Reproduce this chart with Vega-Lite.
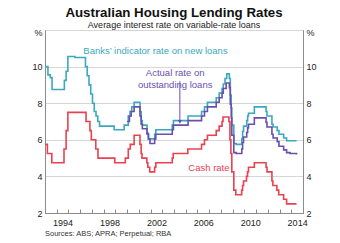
{
  "$schema": "https://vega.github.io/schema/vega-lite/v6.json",
  "width": 258,
  "height": 183,
  "autosize": {"type": "none"},
  "padding": {"left": 45, "top": 30, "right": 37, "bottom": 30},
  "background": "white",
  "title": {
    "text": "Australian Housing Lending Rates",
    "subtitle": "Average interest rate on variable-rate loans",
    "font": "Liberation Sans",
    "fontSize": 13.3,
    "fontWeight": "bold",
    "color": "#111111",
    "subtitleFont": "Liberation Sans",
    "subtitleFontSize": 9,
    "subtitleColor": "#222222",
    "subtitlePadding": 2,
    "anchor": "middle",
    "offset": -2
  },
  "config": {
    "font": "Liberation Sans",
    "view": {"stroke": "#8c8c8c", "strokeWidth": 1}
  },
  "datasets": {
    "one": [{"k": 1}],
    "rates": [
      {"series": "Banks", "date": 1993.0, "value": 10.0},
      {"series": "Banks", "date": 1993.25, "value": 9.55},
      {"series": "Banks", "date": 1993.45, "value": 9.4},
      {"series": "Banks", "date": 1993.6, "value": 8.75},
      {"series": "Banks", "date": 1994.65, "value": 9.25},
      {"series": "Banks", "date": 1994.8, "value": 9.75},
      {"series": "Banks", "date": 1994.95, "value": 10.55},
      {"series": "Banks", "date": 1995.55, "value": 10.5},
      {"series": "Banks", "date": 1996.45, "value": 10.0},
      {"series": "Banks", "date": 1996.6, "value": 9.5},
      {"series": "Banks", "date": 1996.75, "value": 9.0},
      {"series": "Banks", "date": 1996.9, "value": 8.5},
      {"series": "Banks", "date": 1997.05, "value": 8.0},
      {"series": "Banks", "date": 1997.2, "value": 7.55},
      {"series": "Banks", "date": 1997.35, "value": 7.3},
      {"series": "Banks", "date": 1997.5, "value": 7.0},
      {"series": "Banks", "date": 1997.65, "value": 6.75},
      {"series": "Banks", "date": 1998.9, "value": 6.55},
      {"series": "Banks", "date": 1999.75, "value": 6.8},
      {"series": "Banks", "date": 2000.1, "value": 7.3},
      {"series": "Banks", "date": 2000.25, "value": 7.55},
      {"series": "Banks", "date": 2000.4, "value": 7.8},
      {"series": "Banks", "date": 2000.6, "value": 8.05},
      {"series": "Banks", "date": 2001.1, "value": 7.55},
      {"series": "Banks", "date": 2001.2, "value": 7.05},
      {"series": "Banks", "date": 2001.3, "value": 6.8},
      {"series": "Banks", "date": 2001.7, "value": 6.3},
      {"series": "Banks", "date": 2001.85, "value": 6.05},
      {"series": "Banks", "date": 2002.35, "value": 6.3},
      {"series": "Banks", "date": 2002.45, "value": 6.55},
      {"series": "Banks", "date": 2003.85, "value": 6.8},
      {"series": "Banks", "date": 2003.95, "value": 7.05},
      {"series": "Banks", "date": 2005.2, "value": 7.3},
      {"series": "Banks", "date": 2006.35, "value": 7.55},
      {"series": "Banks", "date": 2006.6, "value": 7.8},
      {"series": "Banks", "date": 2006.85, "value": 8.05},
      {"series": "Banks", "date": 2007.6, "value": 8.3},
      {"series": "Banks", "date": 2007.85, "value": 8.55},
      {"series": "Banks", "date": 2008.1, "value": 8.8},
      {"series": "Banks", "date": 2008.2, "value": 9.05},
      {"series": "Banks", "date": 2008.35, "value": 9.35},
      {"series": "Banks", "date": 2008.5, "value": 9.6},
      {"series": "Banks", "date": 2008.72, "value": 9.35},
      {"series": "Banks", "date": 2008.8, "value": 8.45},
      {"series": "Banks", "date": 2008.88, "value": 7.75},
      {"series": "Banks", "date": 2008.93, "value": 6.8},
      {"series": "Banks", "date": 2009.1, "value": 5.8},
      {"series": "Banks", "date": 2009.3, "value": 5.75},
      {"series": "Banks", "date": 2009.78, "value": 6.05},
      {"series": "Banks", "date": 2009.85, "value": 6.45},
      {"series": "Banks", "date": 2009.93, "value": 6.75},
      {"series": "Banks", "date": 2010.2, "value": 7.05},
      {"series": "Banks", "date": 2010.28, "value": 7.3},
      {"series": "Banks", "date": 2010.35, "value": 7.45},
      {"series": "Banks", "date": 2010.85, "value": 7.8},
      {"series": "Banks", "date": 2011.85, "value": 7.55},
      {"series": "Banks", "date": 2011.93, "value": 7.3},
      {"series": "Banks", "date": 2012.35, "value": 6.85},
      {"series": "Banks", "date": 2012.45, "value": 6.7},
      {"series": "Banks", "date": 2012.8, "value": 6.5},
      {"series": "Banks", "date": 2012.95, "value": 6.3},
      {"series": "Banks", "date": 2013.35, "value": 6.1},
      {"series": "Banks", "date": 2013.6, "value": 5.95},
      {"series": "Banks", "date": 2014.45, "value": 5.95},

      {"series": "Actual", "date": 2000.0, "value": 7.0},
      {"series": "Actual", "date": 2000.2, "value": 7.3},
      {"series": "Actual", "date": 2000.35, "value": 7.55},
      {"series": "Actual", "date": 2000.6, "value": 7.8},
      {"series": "Actual", "date": 2001.1, "value": 7.3},
      {"series": "Actual", "date": 2001.2, "value": 6.85},
      {"series": "Actual", "date": 2001.3, "value": 6.6},
      {"series": "Actual", "date": 2001.7, "value": 6.35},
      {"series": "Actual", "date": 2001.8, "value": 6.05},
      {"series": "Actual", "date": 2001.95, "value": 5.8},
      {"series": "Actual", "date": 2002.35, "value": 6.05},
      {"series": "Actual", "date": 2002.45, "value": 6.3},
      {"series": "Actual", "date": 2003.85, "value": 6.55},
      {"series": "Actual", "date": 2003.95, "value": 6.8},
      {"series": "Actual", "date": 2005.2, "value": 7.05},
      {"series": "Actual", "date": 2006.35, "value": 7.3},
      {"series": "Actual", "date": 2006.6, "value": 7.55},
      {"series": "Actual", "date": 2006.85, "value": 7.8},
      {"series": "Actual", "date": 2007.6, "value": 8.05},
      {"series": "Actual", "date": 2007.85, "value": 8.3},
      {"series": "Actual", "date": 2008.1, "value": 8.55},
      {"series": "Actual", "date": 2008.2, "value": 8.8},
      {"series": "Actual", "date": 2008.45, "value": 9.1},
      {"series": "Actual", "date": 2008.72, "value": 8.85},
      {"series": "Actual", "date": 2008.8, "value": 7.95},
      {"series": "Actual", "date": 2008.88, "value": 7.2},
      {"series": "Actual", "date": 2008.93, "value": 6.25},
      {"series": "Actual", "date": 2009.1, "value": 5.3},
      {"series": "Actual", "date": 2009.3, "value": 5.25},
      {"series": "Actual", "date": 2009.78, "value": 5.5},
      {"series": "Actual", "date": 2009.85, "value": 5.85},
      {"series": "Actual", "date": 2009.93, "value": 6.15},
      {"series": "Actual", "date": 2010.2, "value": 6.4},
      {"series": "Actual", "date": 2010.28, "value": 6.65},
      {"series": "Actual", "date": 2010.35, "value": 6.85},
      {"series": "Actual", "date": 2010.85, "value": 7.2},
      {"series": "Actual", "date": 2011.85, "value": 6.95},
      {"series": "Actual", "date": 2011.93, "value": 6.7},
      {"series": "Actual", "date": 2012.35, "value": 6.3},
      {"series": "Actual", "date": 2012.45, "value": 6.1},
      {"series": "Actual", "date": 2012.8, "value": 5.9},
      {"series": "Actual", "date": 2012.95, "value": 5.65},
      {"series": "Actual", "date": 2013.35, "value": 5.45},
      {"series": "Actual", "date": 2013.6, "value": 5.3},
      {"series": "Actual", "date": 2013.9, "value": 5.25},
      {"series": "Actual", "date": 2014.45, "value": 5.2},

      {"series": "Cash", "date": 1993.0, "value": 5.75},
      {"series": "Cash", "date": 1993.2, "value": 5.25},
      {"series": "Cash", "date": 1993.58, "value": 4.75},
      {"series": "Cash", "date": 1994.62, "value": 5.5},
      {"series": "Cash", "date": 1994.8, "value": 6.5},
      {"series": "Cash", "date": 1994.95, "value": 7.5},
      {"series": "Cash", "date": 1996.5, "value": 7.0},
      {"series": "Cash", "date": 1996.83, "value": 6.5},
      {"series": "Cash", "date": 1996.95, "value": 6.0},
      {"series": "Cash", "date": 1997.33, "value": 5.5},
      {"series": "Cash", "date": 1997.52, "value": 5.0},
      {"series": "Cash", "date": 1998.95, "value": 4.75},
      {"series": "Cash", "date": 1999.85, "value": 5.0},
      {"series": "Cash", "date": 2000.1, "value": 5.5},
      {"series": "Cash", "date": 2000.27, "value": 5.75},
      {"series": "Cash", "date": 2000.6, "value": 6.25},
      {"series": "Cash", "date": 2001.1, "value": 5.75},
      {"series": "Cash", "date": 2001.2, "value": 5.25},
      {"series": "Cash", "date": 2001.27, "value": 5.0},
      {"series": "Cash", "date": 2001.68, "value": 4.75},
      {"series": "Cash", "date": 2001.77, "value": 4.5},
      {"series": "Cash", "date": 2001.93, "value": 4.25},
      {"series": "Cash", "date": 2002.35, "value": 4.5},
      {"series": "Cash", "date": 2002.45, "value": 4.75},
      {"series": "Cash", "date": 2003.85, "value": 5.0},
      {"series": "Cash", "date": 2003.93, "value": 5.25},
      {"series": "Cash", "date": 2005.18, "value": 5.5},
      {"series": "Cash", "date": 2006.35, "value": 5.75},
      {"series": "Cash", "date": 2006.6, "value": 6.0},
      {"series": "Cash", "date": 2006.85, "value": 6.25},
      {"series": "Cash", "date": 2007.6, "value": 6.5},
      {"series": "Cash", "date": 2007.85, "value": 6.75},
      {"series": "Cash", "date": 2008.1, "value": 7.0},
      {"series": "Cash", "date": 2008.18, "value": 7.25},
      {"series": "Cash", "date": 2008.68, "value": 7.0},
      {"series": "Cash", "date": 2008.77, "value": 6.0},
      {"series": "Cash", "date": 2008.85, "value": 5.25},
      {"series": "Cash", "date": 2008.93, "value": 4.25},
      {"series": "Cash", "date": 2009.1, "value": 3.25},
      {"series": "Cash", "date": 2009.27, "value": 3.0},
      {"series": "Cash", "date": 2009.77, "value": 3.25},
      {"series": "Cash", "date": 2009.85, "value": 3.5},
      {"series": "Cash", "date": 2009.93, "value": 3.75},
      {"series": "Cash", "date": 2010.18, "value": 4.0},
      {"series": "Cash", "date": 2010.27, "value": 4.25},
      {"series": "Cash", "date": 2010.35, "value": 4.5},
      {"series": "Cash", "date": 2010.85, "value": 4.75},
      {"series": "Cash", "date": 2011.85, "value": 4.5},
      {"series": "Cash", "date": 2011.93, "value": 4.25},
      {"series": "Cash", "date": 2012.35, "value": 3.75},
      {"series": "Cash", "date": 2012.43, "value": 3.5},
      {"series": "Cash", "date": 2012.77, "value": 3.25},
      {"series": "Cash", "date": 2012.93, "value": 3.0},
      {"series": "Cash", "date": 2013.35, "value": 2.75},
      {"series": "Cash", "date": 2013.6, "value": 2.5},
      {"series": "Cash", "date": 2014.45, "value": 2.5}
    ]
  },
  "layer": [
    {
      "data": {"name": "rates"},
      "mark": {"type": "line", "interpolate": "step-after", "strokeWidth": 1.6},
      "encoding": {
        "x": {
          "field": "date",
          "type": "quantitative",
          "scale": {"domain": [1993, 2015], "nice": false, "zero": false},
          "axis": {
            "orient": "bottom",
            "title": null,
            "values": [1994, 1998, 2002, 2006, 2010, 2014],
            "format": "d",
            "labelOffset": 5.86,
            "labelFlush": false,
            "labelFontSize": 9,
            "labelColor": "#222222",
            "labelPadding": 5,
            "ticks": false,
            "domainColor": "#8c8c8c",
            "grid": false
          }
        },
        "y": {
          "field": "value",
          "type": "quantitative",
          "scale": {"domain": [2, 12], "nice": false, "zero": false},
          "axis": {
            "orient": "left",
            "title": null,
            "values": [2, 4, 6, 8, 10, 12],
            "labelExpr": "datum.value == 12 ? '%' : datum.label",
            "labelOffset": {"condition": {"test": "datum.value == 12", "value": 2}, "value": 0},
            "labelFontSize": 9,
            "labelColor": "#222222",
            "labelPadding": 3,
            "ticks": false,
            "grid": true,
            "gridColor": "#d6d6d6",
            "domainColor": "#8c8c8c"
          }
        },
        "color": {
          "field": "series",
          "type": "nominal",
          "scale": {"domain": ["Banks", "Actual", "Cash"], "range": ["#3ba9bd", "#6b4fae", "#e9424f"]},
          "legend": null
        }
      }
    },
    {
      "data": {"name": "rates"},
      "mark": {"type": "line", "opacity": 0},
      "encoding": {
        "x": {
          "field": "date",
          "type": "quantitative",
          "axis": {
            "orient": "top",
            "offset": -183,
            "title": null,
            "values": [1993, 1994, 1995, 1996, 1997, 1998, 1999, 2000, 2001, 2002, 2003, 2004, 2005, 2006, 2007, 2008, 2009, 2010, 2011, 2012, 2013, 2014, 2015],
            "labels": false,
            "domain": false,
            "ticks": true,
            "tickSize": 4,
            "tickColor": "#8c8c8c",
            "grid": false
          }
        },
        "y": {
          "field": "value",
          "type": "quantitative",
          "axis": {
            "orient": "right",
            "title": null,
            "values": [2, 4, 6, 8, 10, 12],
            "labelExpr": "datum.value == 12 ? '%' : datum.label",
            "labelOffset": {"condition": {"test": "datum.value == 12", "value": 2}, "value": 0},
            "labelFontSize": 9,
            "labelColor": "#222222",
            "labelPadding": 3,
            "ticks": false,
            "grid": false,
            "domainColor": "#8c8c8c"
          }
        }
      }
    },
    {
      "data": {"name": "one"},
      "mark": {"type": "text", "fontSize": 9.5, "color": "#3ba9bd", "align": "center", "baseline": "middle"},
      "encoding": {"x": {"datum": 2002.42, "axis": null}, "y": {"datum": 10.85, "axis": null}, "text": {"value": "Banks’ indicator rate on new loans"}}
    },
    {
      "data": {"name": "one"},
      "mark": {"type": "text", "fontSize": 9.5, "color": "#6b4fae", "align": "center", "baseline": "middle"},
      "encoding": {"x": {"datum": 2004.1, "axis": null}, "y": {"datum": 9.63, "axis": null}, "text": {"value": "Actual rate on"}}
    },
    {
      "data": {"name": "one"},
      "mark": {"type": "text", "fontSize": 9.5, "color": "#6b4fae", "align": "center", "baseline": "middle"},
      "encoding": {"x": {"datum": 2004.1, "axis": null}, "y": {"datum": 8.98, "axis": null}, "text": {"value": "outstanding loans"}}
    },
    {
      "data": {"name": "one"},
      "mark": {"type": "rule", "color": "#6b4fae", "strokeWidth": 1},
      "encoding": {"x": {"datum": 2004.5, "axis": null}, "y": {"datum": 9.2, "axis": null}, "y2": {"datum": 7.0}}
    },
    {
      "data": {"name": "one"},
      "mark": {"type": "point", "shape": "triangle-down", "filled": true, "size": 18, "color": "#6b4fae", "opacity": 1},
      "encoding": {"x": {"datum": 2004.5, "axis": null}, "y": {"datum": 6.98, "axis": null}}
    },
    {
      "data": {"name": "one"},
      "mark": {"type": "text", "fontSize": 9.5, "color": "#e9424f", "align": "center", "baseline": "middle"},
      "encoding": {"x": {"datum": 2006.98, "axis": null}, "y": {"datum": 4.47, "axis": null}, "text": {"value": "Cash rate"}}
    },
    {
      "data": {"name": "one"},
      "mark": {"type": "text", "fontSize": 7.5, "color": "#333333", "align": "left", "baseline": "middle"},
      "encoding": {"x": {"datum": 1993, "axis": null}, "y": {"datum": 0.83, "axis": null}, "text": {"value": "Sources:  ABS; APRA; Perpetual; RBA"}}
    }
  ],
  "resolve": {"axis": {"x": "independent", "y": "independent"}}
}
